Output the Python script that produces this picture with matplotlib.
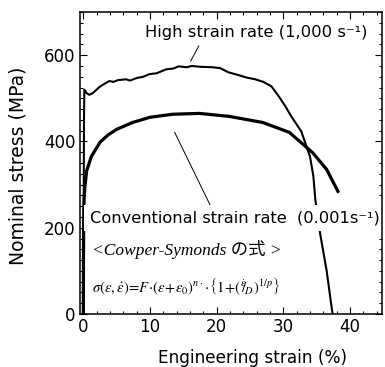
import matplotlib
matplotlib.use("Agg")
import matplotlib.pyplot as plt
from matplotlib.ticker import MultipleLocator

plt.rcParams['font.family'] = ['DejaVu Sans']
plt.rcParams['mathtext.fontset'] = 'stix'

# high strain rate curve (1,000 /s)
high_strain = [0.0, 0.05, 0.1, 0.15, 0.5, 0.9, 1.4, 2.0, 2.4, 3.0, 3.9, 4.5, 5.2,
               6.4, 7.0, 8.0, 9.0, 9.9, 11.0, 12.4, 13.5, 14.3, 15.5, 16.3, 17.5,
               19.3, 20.5, 21.8, 23.0, 24.5, 25.8, 27.0, 28.2, 29.3, 30.2, 31.2,
               32.7, 34.0, 34.5, 34.8, 35.5, 36.5, 37.3, 37.4]
high_stress = [0, 250, 450, 520, 512, 508, 512, 520, 526, 532, 540, 538, 542,
               544, 541, 547, 550, 556, 558, 567, 569, 574, 572, 575, 573,
               572, 570, 560, 555, 548, 544, 538, 528, 505, 484, 458,
               423, 365, 320, 265, 188, 100, 9, 0]

# conventional strain rate curve (0.001 /s)
conv_strain = [0.0, 0.02, 0.05, 0.1, 0.2, 0.5, 1.2, 2.5, 3.7, 5.0, 7.4, 10.0, 13.4,
               17.4, 21.9, 26.9, 30.9, 34.4, 36.5, 38.3]
conv_stress = [0, 120, 210, 260, 290, 332, 365, 398, 415, 428, 444, 456, 463,
               465, 458, 444, 421, 374, 335, 281]

x_ticks = [0, 10, 20, 30, 40]
y_ticks = [0, 200, 400, 600]

fig = plt.figure(figsize=(3.85, 3.67), dpi=100)
ax = fig.add_axes([0.2078, 0.1444, 0.7844, 0.8229])

ax.plot(high_strain, high_stress, color='black', lw=1.5, zorder=2)
ax.plot(conv_strain, conv_stress, color='black', lw=2.3, zorder=2,
        solid_capstyle='butt')

# leader lines
ax.plot([16.1, 17.3], [586, 621], color='black', lw=0.7)
ax.plot([13.7, 19.0], [421, 253], color='black', lw=0.7)

ax.text(9.2, 653, 'High strain rate (1,000 s⁻¹)', fontsize=11.8,
        ha='left', va='center')
ax.text(0.97, 223, 'Conventional strain rate  (0.001s⁻¹)', fontsize=11.7,
        ha='left', va='center', zorder=2.2,
        bbox=dict(facecolor='white', edgecolor='none', pad=4))
ax.text(1.27, 149, '<Cowper-Symonds の式 >', fontsize=12.5, style='italic',
        family=['Liberation Serif', 'Noto Sans CJK JP'], ha='left', va='center')
ax.text(1.27, 63,
        r'$\sigma(\varepsilon,\dot{\varepsilon})\!=\!F\!\cdot\!(\varepsilon\!+\!\varepsilon_0)^{n\cdot}'
        r'\!\cdot\!\left\{1\!+\!\left(^{\dot{\varepsilon}}\!\!/_{\!D}\right)^{1/p}\right\}$',
        fontsize=10.6, ha='left', va='center')

ax.set_xlim(-0.5, 44.8)
ax.set_ylim(0, 700)
ax.set_xticks(x_ticks)
ax.set_yticks(y_ticks)
ax.xaxis.set_minor_locator(MultipleLocator(2))
ax.yaxis.set_minor_locator(MultipleLocator(25))
ax.tick_params(which='both', direction='in', top=True, right=True, width=0.8,
               labelsize=12, pad=3)
ax.tick_params(which='major', length=5)
ax.tick_params(which='minor', length=2.5)
for s in ax.spines.values():
    s.set_linewidth(1.1)

ax.set_xlabel('Engineering strain (%)', fontsize=12.2)
ax.set_ylabel('Nominal stress (MPa)', fontsize=13.5)
ax.xaxis.set_label_coords(0.57, -0.115)
ax.yaxis.set_label_coords(-0.175, 0.49)

fig.savefig('out.png', dpi=100)
